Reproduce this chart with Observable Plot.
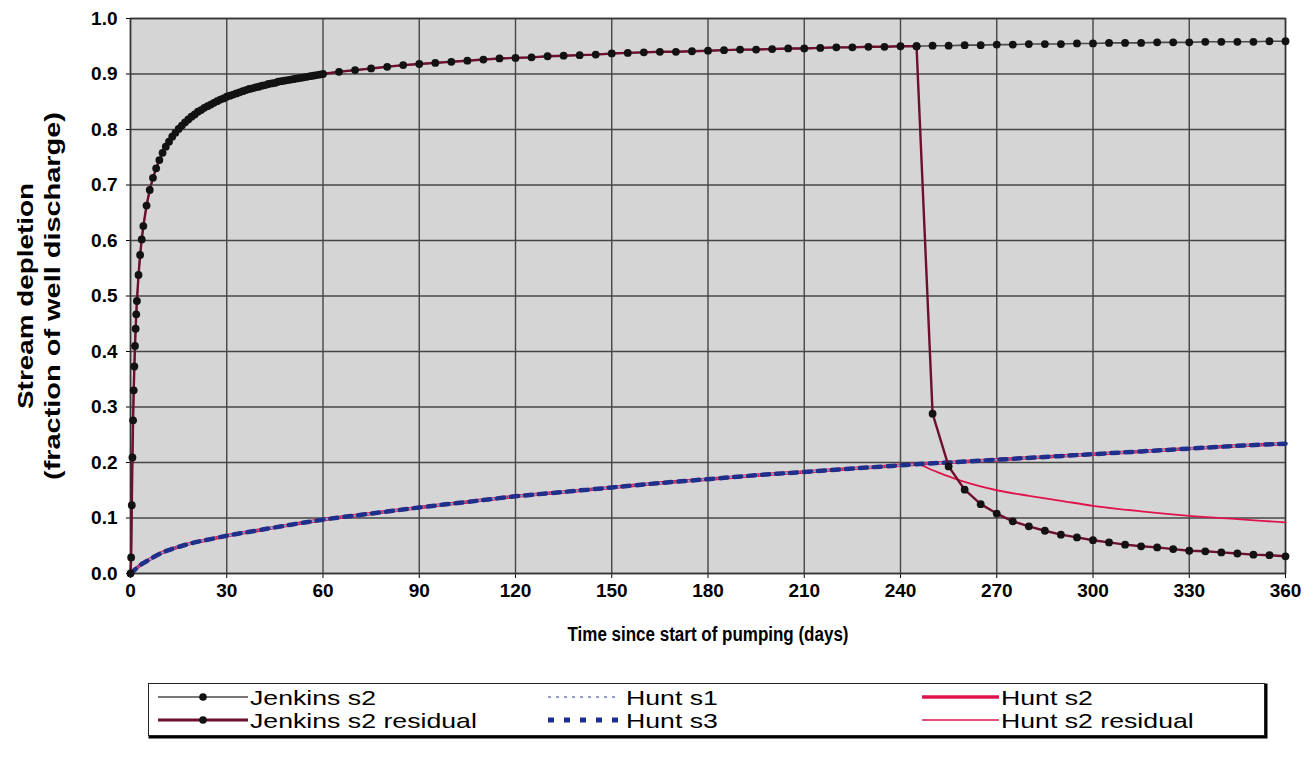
<!DOCTYPE html>
<html>
<head>
<meta charset="utf-8">
<script src="https://cdn.jsdelivr.net/npm/d3@7"></script>
<script src="https://cdn.jsdelivr.net/npm/@observablehq/plot@0.6"></script>
<style>
  body { margin: 0; background: #fff; }
  #wrap { position: relative; width: 1312px; height: 762px; font-family: 'Liberation Sans', Arial, sans-serif; }
  #legend { position: absolute; left: 0; top: 665px; }
</style>
</head>
<body>
<div id="wrap"></div>
<script>
// ---------- data ----------
const xTicks = [0, 30, 60, 90, 120, 150, 180, 210, 240, 270, 300, 330, 360];
const yTicks = [0, 0.1, 0.2, 0.3, 0.4, 0.5, 0.6, 0.7, 0.8, 0.9, 1.0];

const jenkinsDays = [0, 0.2, 0.4, 0.6, 0.8, 1, 1.2, 1.4, 1.6, 1.8, 2, 2.5, 3, 3.5, 4,
  5, 6, 7, 8, 9, 10, 11, 12, 13, 14, 15, 16, 17, 18, 19, 20, 21, 22, 23, 24, 25, 26, 27, 28, 29, 30,
  31, 32, 33, 34, 35, 36, 37, 38, 39, 40, 41, 42, 43, 44, 45, 46, 47, 48, 49, 50, 51, 52, 53, 54, 55,
  56, 57, 58, 59, 60, 65, 70, 75, 80, 85, 90, 95, 100, 105, 110, 115, 120, 125, 130, 135, 140, 145,
  150, 155, 160, 165, 170, 175, 180, 185, 190, 195, 200, 205, 210, 215, 220, 225, 230, 235, 240, 245,
  250, 255, 260, 265, 270, 275, 280, 285, 290, 295, 300, 305, 310, 315, 320, 325, 330, 335, 340, 345,
  350, 355, 360];
const jenkinsS2 = [0, 0.029, 0.123, 0.209, 0.276, 0.330, 0.373, 0.410, 0.441, 0.467, 0.491, 0.538, 0.574, 0.602, 0.626,
  0.663, 0.691, 0.713, 0.730, 0.745, 0.758, 0.769, 0.778, 0.787, 0.794, 0.801, 0.807, 0.813, 0.818, 0.823, 0.827,
  0.832, 0.835, 0.839, 0.842, 0.845, 0.848, 0.851, 0.854, 0.856, 0.859,
  0.861, 0.863, 0.865, 0.867, 0.869, 0.871, 0.873, 0.874, 0.876, 0.877, 0.879, 0.880, 0.882, 0.883, 0.884,
  0.886, 0.887, 0.888, 0.889, 0.890, 0.891, 0.892, 0.893, 0.894, 0.895, 0.896, 0.897, 0.898, 0.899, 0.900,
  0.904, 0.907, 0.910, 0.913, 0.916, 0.918, 0.920, 0.922, 0.924, 0.926, 0.928, 0.929, 0.930, 0.932, 0.933,
  0.934, 0.935, 0.937, 0.938, 0.939, 0.940, 0.940, 0.941, 0.942, 0.943, 0.944, 0.944, 0.945, 0.946, 0.946,
  0.947, 0.948, 0.948, 0.949, 0.949, 0.950, 0.950,
  0.951, 0.951, 0.952, 0.952, 0.953, 0.953, 0.954, 0.954, 0.954, 0.955, 0.955, 0.956, 0.956, 0.956, 0.957,
  0.957, 0.957, 0.958, 0.958, 0.958, 0.958, 0.959, 0.959];

const pumpingStopDay = 245;
const residualTailDays = [250, 255, 260, 265, 270, 275, 280, 285, 290, 295, 300, 305, 310, 315, 320, 325, 330, 335, 340, 345, 350, 355, 360];
const jenkinsResidualTail = [0.288, 0.193, 0.151, 0.125, 0.108, 0.094, 0.085, 0.077, 0.070, 0.065, 0.060, 0.056,
  0.052, 0.049, 0.047, 0.044, 0.041, 0.040, 0.038, 0.036, 0.034, 0.033, 0.031];

const huntDays = [0, 1, 2, 3, 5, 7, 10, 15, 20, 25, 30, 40, 50, 60, 75, 90, 105, 120, 135, 150, 165, 180,
  195, 210, 225, 240, 245, 255, 270, 285, 300, 315, 330, 345, 360];
const huntS1 = [0, 0.005, 0.010, 0.015, 0.022, 0.029, 0.038, 0.048, 0.056, 0.062, 0.068, 0.078, 0.088, 0.097,
  0.108, 0.119, 0.129, 0.139, 0.147, 0.155, 0.163, 0.170, 0.177, 0.183, 0.189, 0.195, 0.197, 0.200, 0.205,
  0.210, 0.215, 0.220, 0.225, 0.230, 0.234];
const huntS2 = [0, 0.005, 0.010, 0.015, 0.022, 0.029, 0.038, 0.048, 0.056, 0.062, 0.068, 0.078, 0.088, 0.097,
  0.108, 0.119, 0.129, 0.139, 0.147, 0.155, 0.163, 0.170, 0.177, 0.183, 0.189, 0.195, 0.197, 0.200, 0.205,
  0.210, 0.215, 0.220, 0.225, 0.230, 0.234];
const huntS3 = [0, 0.005, 0.010, 0.015, 0.022, 0.029, 0.038, 0.048, 0.056, 0.062, 0.068, 0.078, 0.088, 0.097,
  0.108, 0.119, 0.129, 0.139, 0.147, 0.155, 0.163, 0.170, 0.177, 0.183, 0.189, 0.195, 0.197, 0.200, 0.205,
  0.210, 0.215, 0.220, 0.225, 0.230, 0.234];
const huntResidualTailDays = [250, 255, 260, 270, 280, 290, 300, 315, 330, 345, 360];
const huntS2ResidualTail = [0.186, 0.175, 0.165, 0.150, 0.140, 0.131, 0.122, 0.112, 0.104, 0.098, 0.092];

const legendItems = [
  {name: "Jenkins s2", col: 0, row: 0},
  {name: "Jenkins s2 residual", col: 0, row: 1},
  {name: "Hunt s1", col: 1, row: 0},
  {name: "Hunt s3", col: 1, row: 1},
  {name: "Hunt s2", col: 2, row: 0},
  {name: "Hunt s2 residual", col: 2, row: 1}
];

// ---------- build tables ----------
const toRows = (days, vals) => days.map((t, i) => ({t, v: vals[i]}));
const jenkins = toRows(jenkinsDays, jenkinsS2);
const jenkinsResidual = jenkins.filter(d => d.t <= pumpingStopDay).concat(toRows(residualTailDays, jenkinsResidualTail));
const hunt1 = toRows(huntDays, huntS1);
const hunt2 = toRows(huntDays, huntS2);
const hunt3 = toRows(huntDays, huntS3);
const hunt2Residual = hunt2.filter(d => d.t <= pumpingStopDay).concat(toRows(huntResidualTailDays, huntS2ResidualTail));

const C = {
  jenkinsLine: "#4a4a4a",
  dot: "#121212",
  residual: "#6e0f2c",
  h1: "#95a0c8",
  h2: "#e0144c",
  h3: "#1f2f8c",
  grid: "#464646",
  bg: "#d5d5d5"
};

const chart = Plot.plot({
  width: 1312,
  height: 665,
  marginLeft: 130,
  marginRight: 27,
  marginTop: 18,
  marginBottom: 92,
  style: {fontFamily: "'Liberation Sans', Arial, sans-serif", fontSize: "19px", fontWeight: "bold", background: "#fff", color: "#000"},
  x: {domain: [0, 360], ticks: xTicks, label: null, tickSize: 5, tickPadding: 5},
  y: {domain: [0, 1], ticks: yTicks, tickFormat: d => d.toFixed(1), label: null, tickSize: 4, tickPadding: 9},
  marks: [
    Plot.frame({fill: C.bg, stroke: null}),
    Plot.ruleX(xTicks, {stroke: C.grid, strokeWidth: 1.4}),
    Plot.ruleY(yTicks, {stroke: C.grid, strokeWidth: 1.4}),
    Plot.frame({stroke: "#333", strokeWidth: 1.5}),
    Plot.line(hunt2Residual, {x: "t", y: "v", stroke: C.h2, strokeWidth: 1.8, curve: "monotone-x"}),
    Plot.line(hunt2, {x: "t", y: "v", stroke: C.h2, strokeWidth: 3.5, curve: "monotone-x"}),
    Plot.line(hunt1, {x: "t", y: "v", stroke: C.h1, strokeWidth: 2, strokeDasharray: "3,3", curve: "monotone-x"}),
    Plot.line(hunt3, {x: "t", y: "v", stroke: C.h3, strokeWidth: 4.5, strokeDasharray: "7,7", curve: "monotone-x"}),
    Plot.line(jenkins, {x: "t", y: "v", stroke: C.jenkinsLine, strokeWidth: 1.6}),
    Plot.line(jenkinsResidual, {x: "t", y: "v", stroke: C.residual, strokeWidth: 2.4}),
    Plot.dot(jenkins, {x: "t", y: "v", r: 3.9, fill: C.dot, stroke: null}),
    Plot.dot(jenkinsResidual.filter(d => d.t >= pumpingStopDay), {x: "t", y: "v", r: 3.9, fill: C.dot, stroke: null}),
    Plot.text(["Time since start of pumping (days)"], {text: d => d, frameAnchor: "bottom", dy: 67, fontSize: 20, fontWeight: "bold"}),
    Plot.text(["Stream depletion"], {text: d => d, frameAnchor: "left", dx: -105, rotate: -90, textAnchor: "middle", fontSize: 22, fontWeight: "bold"}),
    Plot.text(["(fraction of well discharge)"], {text: d => d, frameAnchor: "left", dx: -78, rotate: -90, textAnchor: "middle", fontSize: 22, fontWeight: "bold"})
  ]
});

const wrap = document.getElementById("wrap");
wrap.appendChild(chart);

// the scanned original is stretched vertically: fit the title lengths to it
const titleLengths = {"Stream depletion": 226, "(fraction of well discharge)": 368, "Time since start of pumping (days)": 281};
d3.select(chart).selectAll("text").each(function () {
  const len = titleLengths[this.textContent];
  if (len) d3.select(this).attr("textLength", len).attr("lengthAdjust", "spacingAndGlyphs");
});

// ---------- legend (below the chart SVG) ----------
const ns = "http://www.w3.org/2000/svg";
const lg = document.createElementNS(ns, "svg");
lg.setAttribute("id", "legend");
lg.setAttribute("width", 1312);
lg.setAttribute("height", 97);
wrap.appendChild(lg);
const L = d3.select(lg);
L.append("rect").attr("x", 150).attr("y", 20).attr("width", 1116).attr("height", 52)
  .attr("fill", "none").attr("stroke", "#000").attr("stroke-width", 3);
L.append("rect").attr("x", 148.5).attr("y", 18.5).attr("width", 1116).attr("height", 52)
  .attr("fill", "#fff").attr("stroke", "#222").attr("stroke-width", 1);
const colSample = [[158, 248], [548, 620], [922, 999]];
const colText = [250, 626, 1001];
const rowY = [32, 55];
const styleFor = {
  "Jenkins s2": {stroke: C.jenkinsLine, w: 1.5, dash: null, dot: true},
  "Jenkins s2 residual": {stroke: C.residual, w: 3, dash: null, dot: true},
  "Hunt s1": {stroke: C.h1, w: 2, dash: "3,5", dot: false},
  "Hunt s3": {stroke: C.h3, w: 5, dash: "6,10", dot: false},
  "Hunt s2": {stroke: C.h2, w: 3.5, dash: null, dot: false},
  "Hunt s2 residual": {stroke: C.h2, w: 1.6, dash: null, dot: false}
};
for (const it of legendItems) {
  const s = styleFor[it.name];
  const [x1, x2] = colSample[it.col];
  const y = rowY[it.row];
  const ln = L.append("line").attr("x1", x1).attr("x2", x2).attr("y1", y).attr("y2", y)
    .attr("stroke", s.stroke).attr("stroke-width", s.w);
  if (s.dash) ln.attr("stroke-dasharray", s.dash);
  if (s.dot) L.append("circle").attr("cx", (x1 + x2) / 2).attr("cy", y).attr("r", 3.8).attr("fill", C.dot);
  const tx = L.append("text").attr("x", colText[it.col]).attr("y", y).attr("dy", "0.36em")
    .attr("font-family", "'Liberation Sans', Arial, sans-serif").attr("font-size", 21).text(it.name);
  const w = tx.node().getComputedTextLength();
  tx.attr("textLength", w * 1.27).attr("lengthAdjust", "spacingAndGlyphs");
}
</script>
</body>
</html>
